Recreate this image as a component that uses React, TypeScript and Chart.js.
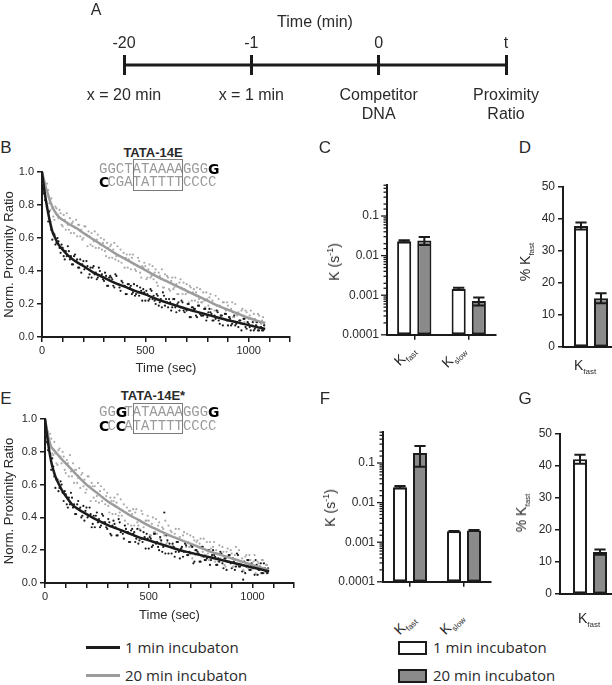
import React, { useEffect, useRef } from 'react';
import { Chart, registerables } from 'chart.js';

Chart.register(...registerables);

const SANS = '"Liberation Sans", Arial, Helvetica, sans-serif';
const LEGEND_FONT = '"Open Sans", "Liberation Sans", sans-serif';
const MONO = '"Liberation Mono", "DejaVu Sans Mono", monospace';
const BOLD_FONT = '"DejaVu Sans", "Liberation Sans", sans-serif';
const INK = '#1b1b1b';
const TEXT = '#2a2a2a';
const GRAY_FILL = '#8a8a8a';
const GRAY_LINE = '#9c9c9c';
const GRAY_DOT = '#ababab';
const SEQ_GRAY = '#9a9a9a';

Chart.defaults.font.family = SANS;
Chart.defaults.color = TEXT;

// ---------- Panel A (timeline) ----------
const TIME_LABELS = ['-20', '-1', '0', 't'];
const EVENT_LABELS = [['x = 20 min'], ['x = 1 min'], ['Competitor', 'DNA'], ['Proximity', 'Ratio']];
const TIMELINE_Y = [0, 0, 0, 0];

// ---------- Panels B / E (decay curves) ----------
const DOT_T = [5, 15, 25, 35, 45, 55, 65, 75, 85, 95, 105, 115, 125, 135, 145, 155, 165, 175, 185, 195, 205, 215, 225, 235, 245, 255, 265, 275, 285, 295, 305, 315, 325, 335, 345, 355, 365, 375, 385, 395, 405, 415, 425, 435, 445, 455, 465, 475, 485, 495, 505, 515, 525, 535, 545, 555, 565, 575, 585, 595, 605, 615, 625, 635, 645, 655, 665, 675, 685, 695, 705, 715, 725, 735, 745, 755, 765, 775, 785, 795, 805, 815, 825, 835, 845, 855, 865, 875, 885, 895, 905, 915, 925, 935, 945, 955, 965, 975, 985, 995, 1005, 1015, 1025, 1035, 1045, 1055, 1065, 1075];
const DOT_T2 = [0, 10, 20, 30, 40, 50, 60, 70, 80, 90, 100, 110, 120, 130, 140, 150, 160, 170, 180, 190, 200, 210, 220, 230, 240, 250, 260, 270, 280, 290, 300, 310, 320, 330, 340, 350, 360, 370, 380, 390, 400, 410, 420, 430, 440, 450, 460, 470, 480, 490, 500, 510, 520, 530, 540, 550, 560, 570, 580, 590, 600, 610, 620, 630, 640, 650, 660, 670, 680, 690, 700, 710, 720, 730, 740, 750, 760, 770, 780, 790, 800, 810, 820, 830, 840, 850, 860, 870, 880, 890, 900, 910, 920, 930, 940, 950, 960, 970, 980, 990, 1000, 1010, 1020, 1030, 1040, 1050, 1060, 1070];

const B_DOTS_1MIN = [
  0.97, 0.83, 0.79, 0.76, 0.65, 0.63, 0.56, 0.60, 0.54, 0.56,
  0.49, 0.52, 0.55, 0.47, 0.44, 0.49, 0.46, 0.42, 0.47, 0.44,
  0.41, 0.46, 0.36, 0.42, 0.42, 0.38, 0.35, 0.42, 0.37, 0.35,
  0.39, 0.31, 0.36, 0.36, 0.31, 0.38, 0.32, 0.30, 0.34, 0.31,
  0.26, 0.32, 0.30, 0.26, 0.32, 0.26, 0.27, 0.30, 0.22, 0.27,
  0.28, 0.22, 0.29, 0.23, 0.22, 0.26, 0.19, 0.23, 0.27, 0.19,
  0.21, 0.23, 0.16, 0.23, 0.18, 0.20, 0.16, 0.22, 0.16, 0.17,
  0.20, 0.12, 0.18, 0.17, 0.13, 0.19, 0.14, 0.13, 0.17, 0.10,
  0.15, 0.15, 0.10, 0.13, 0.16, 0.10, 0.13, 0.07, 0.14, 0.10,
  0.12, 0.07, 0.15, 0.07, 0.09, 0.10, 0.04, 0.11, 0.06, 0.09,
  0.06, 0.11, 0.04, 0.07, 0.04, 0.09, 0.04, 0.07,
];
const B_DOTS_1MIN_REP2 = [
  0.92, 0.87, 0.82, 0.70, 0.70, 0.59, 0.62, 0.57, 0.58, 0.51,
  0.54, 0.47, 0.49, 0.52, 0.49, 0.44, 0.50, 0.47, 0.42, 0.39,
  0.46, 0.42, 0.43, 0.38, 0.36, 0.43, 0.39, 0.36, 0.40, 0.38,
  0.34, 0.37, 0.31, 0.37, 0.35, 0.30, 0.37, 0.32, 0.28, 0.33,
  0.31, 0.26, 0.32, 0.31, 0.27, 0.25, 0.31, 0.25, 0.28, 0.29,
  0.22, 0.26, 0.23, 0.28, 0.25, 0.20, 0.25, 0.21, 0.18, 0.25,
  0.23, 0.18, 0.21, 0.18, 0.23, 0.15, 0.21, 0.18, 0.21, 0.15,
  0.16, 0.20, 0.12, 0.18, 0.17, 0.12, 0.19, 0.13, 0.13, 0.17,
  0.12, 0.17, 0.14, 0.10, 0.11, 0.15, 0.08, 0.13, 0.11, 0.14,
  0.07, 0.11, 0.08, 0.13, 0.08, 0.06, 0.10, 0.08, 0.11, 0.05,
  0.08, 0.04, 0.09, 0.05, 0.09, 0.04, 0.06, 0.04,
];
const B_DOTS_20MIN = [
  0.93, 0.93, 0.93, 0.81, 0.84, 0.73, 0.79, 0.74, 0.77, 0.68,
  0.74, 0.65, 0.68, 0.72, 0.69, 0.63, 0.71, 0.68, 0.61, 0.59,
  0.67, 0.62, 0.64, 0.56, 0.55, 0.64, 0.59, 0.54, 0.60, 0.57,
  0.52, 0.57, 0.48, 0.56, 0.53, 0.47, 0.55, 0.49, 0.45, 0.51,
  0.48, 0.42, 0.50, 0.48, 0.44, 0.40, 0.48, 0.39, 0.43, 0.45,
  0.35, 0.41, 0.36, 0.43, 0.39, 0.33, 0.39, 0.35, 0.30, 0.38,
  0.37, 0.29, 0.34, 0.29, 0.36, 0.26, 0.33, 0.30, 0.33, 0.26,
  0.27, 0.31, 0.22, 0.29, 0.27, 0.21, 0.29, 0.21, 0.22, 0.27,
  0.19, 0.26, 0.22, 0.16, 0.19, 0.23, 0.13, 0.21, 0.17, 0.21,
  0.12, 0.17, 0.12, 0.20, 0.13, 0.10, 0.16, 0.13, 0.16, 0.09,
  0.13, 0.07, 0.14, 0.09, 0.14, 0.06, 0.10, 0.08,
];
const B_DOTS_20MIN_REP2 = [
  1.00, 0.88, 0.89, 0.89, 0.77, 0.78, 0.71, 0.78, 0.72, 0.75,
  0.67, 0.71, 0.75, 0.65, 0.63, 0.70, 0.66, 0.61, 0.68, 0.65,
  0.60, 0.67, 0.55, 0.61, 0.63, 0.58, 0.54, 0.62, 0.56, 0.53,
  0.59, 0.49, 0.54, 0.55, 0.48, 0.57, 0.49, 0.46, 0.53, 0.48,
  0.42, 0.50, 0.47, 0.41, 0.50, 0.41, 0.43, 0.46, 0.36, 0.42,
  0.43, 0.36, 0.44, 0.37, 0.35, 0.41, 0.31, 0.37, 0.41, 0.30,
  0.34, 0.36, 0.28, 0.36, 0.30, 0.32, 0.26, 0.35, 0.26, 0.29,
  0.32, 0.21, 0.30, 0.27, 0.22, 0.30, 0.23, 0.21, 0.27, 0.18,
  0.23, 0.24, 0.17, 0.20, 0.25, 0.16, 0.19, 0.13, 0.21, 0.16,
  0.19, 0.12, 0.21, 0.12, 0.14, 0.15, 0.08, 0.17, 0.09, 0.15,
  0.11, 0.16, 0.07, 0.11, 0.07, 0.13, 0.08, 0.12,
];
const E_DOTS_1MIN = [
  0.97, 0.81, 0.78, 0.76, 0.65, 0.63, 0.56, 0.62, 0.55, 0.56,
  0.48, 0.52, 0.55, 0.46, 0.42, 0.48, 0.45, 0.40, 0.47, 0.44,
  0.40, 0.46, 0.34, 0.41, 0.41, 0.37, 0.34, 0.42, 0.37, 0.34,
  0.39, 0.30, 0.35, 0.36, 0.29, 0.39, 0.31, 0.30, 0.35, 0.31,
  0.25, 0.32, 0.30, 0.25, 0.33, 0.26, 0.27, 0.31, 0.21, 0.27,
  0.28, 0.22, 0.30, 0.24, 0.22, 0.28, 0.19, 0.43, 0.29, 0.18,
  0.22, 0.24, 0.16, 0.25, 0.19, 0.21, 0.16, 0.24, 0.17, 0.19,
  0.23, 0.12, 0.20, 0.19, 0.13, 0.22, 0.16, 0.14, 0.20, 0.11,
  0.17, 0.17, 0.11, 0.15, 0.19, 0.12, 0.15, 0.08, 0.17, 0.12,
  0.15, 0.08, 0.18, 0.10, 0.11, 0.02, 0.06, 0.14, 0.08, 0.12,
  0.09, 0.14, 0.05, 0.10, 0.06, 0.12, 0.07, 0.09,
];
const E_DOTS_1MIN_REP2 = [
  0.91, 0.86, 0.82, 0.69, 0.71, 0.58, 0.63, 0.58, 0.60, 0.50,
  0.54, 0.46, 0.48, 0.52, 0.48, 0.42, 0.50, 0.46, 0.41, 0.38,
  0.46, 0.41, 0.42, 0.36, 0.34, 0.43, 0.39, 0.35, 0.41, 0.37,
  0.33, 0.37, 0.29, 0.38, 0.34, 0.29, 0.37, 0.32, 0.27, 0.33,
  0.31, 0.25, 0.33, 0.31, 0.27, 0.24, 0.32, 0.25, 0.28, 0.30,
  0.21, 0.27, 0.23, 0.30, 0.25, 0.20, 0.26, 0.22, 0.18, 0.26,
  0.24, 0.18, 0.22, 0.19, 0.25, 0.15, 0.22, 0.19, 0.23, 0.17,
  0.18, 0.22, 0.13, 0.20, 0.18, 0.13, 0.22, 0.14, 0.15, 0.20,
  0.14, 0.20, 0.16, 0.11, 0.13, 0.18, 0.09, 0.15, 0.13, 0.17,
  0.09, 0.13, 0.10, 0.17, 0.10, 0.07, 0.13, 0.10, 0.14, 0.08,
  0.11, 0.05, 0.11, 0.08, 0.12, 0.06, 0.09, 0.06,
];
const E_DOTS_20MIN = [
  0.91, 0.92, 0.91, 0.79, 0.86, 0.73, 0.81, 0.77, 0.80, 0.69,
  0.75, 0.65, 0.68, 0.73, 0.69, 0.61, 0.70, 0.66, 0.59, 0.55,
  0.65, 0.59, 0.61, 0.52, 0.50, 0.61, 0.56, 0.50, 0.57, 0.53,
  0.47, 0.52, 0.42, 0.52, 0.49, 0.41, 0.51, 0.44, 0.38, 0.46,
  0.44, 0.35, 0.45, 0.43, 0.37, 0.33, 0.44, 0.34, 0.38, 0.41,
  0.29, 0.36, 0.31, 0.39, 0.35, 0.27, 0.34, 0.29, 0.24, 0.35,
  0.32, 0.23, 0.30, 0.25, 0.33, 0.20, 0.29, 0.25, 0.30, 0.22,
  0.22, 0.28, 0.17, 0.26, 0.24, 0.16, 0.27, 0.17, 0.18, 0.25,
  0.16, 0.25, 0.20, 0.13, 0.15, 0.22, 0.11, 0.19, 0.16, 0.20,
  0.10, 0.17, 0.11, 0.20, 0.11, 0.08, 0.16, 0.12, 0.17, 0.08,
  0.13, 0.06, 0.13, 0.08, 0.14, 0.06, 0.11, 0.06,
];
const E_DOTS_20MIN_REP2 = [
  0.99, 0.85, 0.87, 0.88, 0.78, 0.79, 0.72, 0.82, 0.73, 0.77,
  0.67, 0.73, 0.78, 0.65, 0.61, 0.69, 0.64, 0.58, 0.67, 0.63,
  0.57, 0.65, 0.50, 0.59, 0.59, 0.53, 0.49, 0.59, 0.52, 0.48,
  0.55, 0.43, 0.50, 0.50, 0.42, 0.54, 0.43, 0.41, 0.48, 0.43,
  0.36, 0.44, 0.42, 0.35, 0.45, 0.35, 0.38, 0.42, 0.28, 0.38,
  0.38, 0.29, 0.40, 0.31, 0.30, 0.37, 0.25, 0.33, 0.38, 0.25,
  0.29, 0.31, 0.22, 0.33, 0.25, 0.28, 0.21, 0.31, 0.22, 0.25,
  0.29, 0.15, 0.26, 0.25, 0.17, 0.27, 0.19, 0.17, 0.25, 0.14,
  0.21, 0.22, 0.13, 0.18, 0.23, 0.14, 0.19, 0.10, 0.21, 0.13,
  0.18, 0.10, 0.22, 0.11, 0.13, 0.15, 0.07, 0.17, 0.09, 0.14,
  0.09, 0.17, 0.05, 0.12, 0.06, 0.14, 0.07, 0.11,
];

const FIT_T = [0, 10, 20, 30, 40, 50, 60, 80, 100, 130, 160, 200, 250, 300, 350, 400, 450, 500, 550, 600, 650, 700, 750, 800, 850, 900, 950, 1000, 1050, 1080];
const B_FIT_1MIN = [1.0, 0.9, 0.82, 0.75, 0.69, 0.64, 0.61, 0.56, 0.53, 0.49, 0.46, 0.43, 0.39, 0.36, 0.33, 0.305, 0.28, 0.258, 0.232, 0.21, 0.19, 0.17, 0.152, 0.135, 0.118, 0.102, 0.087, 0.072, 0.057, 0.048];
const B_FIT_20MIN = [1.0, 0.95, 0.9, 0.86, 0.82, 0.79, 0.765, 0.73, 0.71, 0.685, 0.665, 0.63, 0.59, 0.55, 0.51, 0.475, 0.44, 0.405, 0.37, 0.34, 0.31, 0.28, 0.25, 0.22, 0.19, 0.165, 0.14, 0.115, 0.095, 0.085];
const E_FIT_1MIN = [1.0, 0.9, 0.81, 0.74, 0.69, 0.65, 0.62, 0.57, 0.53, 0.48, 0.45, 0.42, 0.385, 0.355, 0.33, 0.305, 0.28, 0.26, 0.24, 0.22, 0.2, 0.185, 0.17, 0.155, 0.14, 0.125, 0.11, 0.095, 0.08, 0.07];
const E_FIT_20MIN = [1.0, 0.93, 0.87, 0.83, 0.815, 0.8, 0.785, 0.755, 0.73, 0.69, 0.65, 0.6, 0.55, 0.5, 0.46, 0.42, 0.385, 0.35, 0.32, 0.29, 0.265, 0.24, 0.215, 0.19, 0.17, 0.15, 0.13, 0.11, 0.09, 0.08];

// ---------- Panels C / F (rate constants, log) ----------
const K_CATS = ['Kfast', 'Kslow'];
const K_SUBS = ['fast', 'slow'];
const LOG_MIN = 0.0001;
const LOG_MAX = 0.6;
const LOG_TICKS = [0.0001, 0.001, 0.01, 0.1];
const LOG_TICK_LABELS = ['0.0001', '0.001', '0.01', '0.1'];

const C_1MIN = [0.023, 0.00145];
const C_1MIN_LO = [0.0215, 0.00136];
const C_1MIN_HI = [0.0245, 0.00155];
const C_20MIN = [0.024, 0.00071];
const C_20MIN_LO = [0.0185, 0.00055];
const C_20MIN_HI = [0.0295, 0.00087];

const F_1MIN = [0.0245, 0.00188];
const F_1MIN_LO = [0.0228, 0.00183];
const F_1MIN_HI = [0.0263, 0.00193];
const F_20MIN = [0.18, 0.00198];
const F_20MIN_LO = [0.08, 0.00194];
const F_20MIN_HI = [0.27, 0.00202];

// ---------- Panels D / G (% Kfast) ----------
const PCT_CATS = ['Kfast'];
const PCT_TICK_STEP = 10;
const D_1MIN = [37.8];
const D_1MIN_LO = [36.7];
const D_1MIN_HI = [38.9];
const D_20MIN = [15.2];
const D_20MIN_LO = [13.7];
const D_20MIN_HI = [16.8];
const G_1MIN = [42.1];
const G_1MIN_LO = [40.7];
const G_1MIN_HI = [43.5];
const G_20MIN = [13.1];
const G_20MIN_LO = [12.3];
const G_20MIN_HI = [13.9];

// ---------- Sequences ----------
const SEQ_B_TOP = 'GGCTATAAAAGGGG';
const SEQ_B_BOT = 'CCGATATTTTCCCC';
const SEQ_E_TOP = 'GGGTATAAAAGGGG';
const SEQ_E_BOT = 'CCCATATTTTCCCC';
const BOLD_B_TOP = [13];
const BOLD_B_BOT = [0];
const BOLD_E_TOP = [2, 13];
const BOLD_E_BOT = [0, 2];

const LEGEND_TEXT = ['1 min incubaton', '20 min incubaton'];

// ---------- plugins ----------
const errorBarPlugin = {
  id: 'errorBars',
  afterDatasetsDraw(chart: any) {
    const ctx = chart.ctx;
    const ys = chart.scales.y;
    chart.data.datasets.forEach((ds: any, di: number) => {
      const meta = chart.getDatasetMeta(di);
      meta.data.forEach((bar: any, i: number) => {
        const yLo = ys.getPixelForValue(ds.errLo[i]);
        const yHi = ys.getPixelForValue(ds.errHi[i]);
        const half = bar.width * 0.4;
        ctx.save();
        ctx.strokeStyle = INK;
        ctx.lineWidth = 2;
        ctx.beginPath();
        ctx.moveTo(bar.x, yLo);
        ctx.lineTo(bar.x, yHi);
        ctx.moveTo(bar.x - half, yLo);
        ctx.lineTo(bar.x + half, yLo);
        ctx.moveTo(bar.x - half, yHi);
        ctx.lineTo(bar.x + half, yHi);
        ctx.stroke();
        ctx.restore();
      });
    });
  },
};

const isPow10 = (v: number) => {
  const e = Math.log10(v);
  return Math.abs(e - Math.round(e)) < 1e-6;
};

const logTickPlugin = {
  id: 'logTicks',
  afterDraw(chart: any) {
    const s = chart.scales.y;
    const ctx = chart.ctx;
    ctx.save();
    ctx.strokeStyle = INK;
    ctx.lineWidth = 1.3;
    s.ticks.forEach((t: any) => {
      const y = s.getPixelForValue(t.value);
      const len = isPow10(t.value) ? 6 : 3.5;
      ctx.beginPath();
      ctx.moveTo(s.right - len, y);
      ctx.lineTo(s.right, y);
      ctx.stroke();
    });
    ctx.restore();
  },
};

const baseOptions = (padding: any) => ({
  responsive: false,
  animation: false,
  events: [],
  devicePixelRatio: 1,
  layout: { padding },
  plugins: { legend: { display: false }, tooltip: { enabled: false } },
});

// ---------- configs ----------
const timelineConfig = () => ({
  type: 'line',
  data: {
    labels: TIME_LABELS,
    datasets: [{ data: TIMELINE_Y, borderColor: INK, borderWidth: 3, pointRadius: 0, xAxisID: 'x', yAxisID: 'y' }],
  },
  options: {
    ...baseOptions({ left: 124, right: 106, top: 0, bottom: 0 }),
    scales: {
      x: {
        type: 'category',
        position: 'top',
        offset: false,
        afterFit: (s: any) => { s.height = 55; },
        grid: { offset: false, drawTicks: false, color: INK, lineWidth: 3 },
        border: { display: false },
        ticks: { font: { size: 16 }, color: TEXT, padding: 2, maxRotation: 0, autoSkip: false },
        title: { display: true, text: 'Time (min)', font: { size: 16 }, color: TEXT, padding: { top: 13, bottom: 0 } },
      },
      x2: {
        type: 'category',
        position: 'bottom',
        labels: EVENT_LABELS,
        offset: false,
        afterFit: (s: any) => { s.height = 50; },
        grid: { display: false },
        border: { display: false },
        ticks: { font: { size: 16 }, color: TEXT, padding: 3, maxRotation: 0, autoSkip: false },
      },
      y: { display: false, min: -1, max: 1 },
    },
  },
});

const dotSet = (times: number[], vals: number[], color: string, order: number) => ({
  data: times.map((t, i) => ({ x: t, y: vals[i] })),
  pointRadius: 1.1,
  backgroundColor: color,
  borderWidth: 0,
  order,
});

const decayConfig = (dots1: number[], dots1b: number[], dots20: number[], dots20b: number[], fit1: number[], fit20: number[], yW: number, xH: number, padding: any, titlePad: number) => () => ({
  type: 'scatter',
  data: {
    datasets: [
      { data: FIT_T.map((t, i) => ({ x: t, y: fit1[i] })), showLine: true, borderColor: INK, borderWidth: 2.5, pointRadius: 0, cubicInterpolationMode: 'monotone', order: 0 },
      { data: FIT_T.map((t, i) => ({ x: t, y: fit20[i] })), showLine: true, borderColor: GRAY_LINE, borderWidth: 2.5, pointRadius: 0, cubicInterpolationMode: 'monotone', order: 1 },
      dotSet(DOT_T, dots1, INK, 2),
      dotSet(DOT_T2, dots1b, INK, 3),
      dotSet(DOT_T, dots20, GRAY_DOT, 4),
      dotSet(DOT_T2, dots20b, GRAY_DOT, 5),
    ],
  },
  options: {
    ...baseOptions(padding),
    scales: {
      x: {
        type: 'linear', min: 0, max: 1200,
        afterFit: (s: any) => { s.height = xH; },
        ticks: { stepSize: 100, autoSkip: false, maxRotation: 0, callback: (v: any) => (Number(v) % 500 === 0 ? String(v) : ''), font: { size: 11 }, color: TEXT, padding: 2 },
        grid: { drawOnChartArea: false, drawTicks: true, tickLength: 5, color: INK, lineWidth: 1.5 },
        border: { color: INK, width: 2 },
        title: { display: true, text: 'Time (sec)', font: { size: 13 }, color: TEXT, padding: { top: 0, bottom: titlePad } },
      },
      y: {
        type: 'linear', min: 0, max: 1,
        afterFit: (s: any) => { s.width = yW; },
        ticks: { stepSize: 0.2, callback: (v: any) => Number(v).toFixed(1), font: { size: 11 }, color: TEXT, padding: 3 },
        grid: { drawOnChartArea: false, drawTicks: true, tickLength: 5, color: INK, lineWidth: 1.5 },
        border: { color: INK, width: 2 },
        title: { display: true, text: 'Norm. Proximity Ratio', font: { size: 13 }, color: TEXT, padding: { top: 2, bottom: 0 } },
      },
    },
  },
});

const logBarConfig = (v1: number[], lo1: number[], hi1: number[], v20: number[], lo20: number[], hi20: number[], yW: number, xH: number, padding: any) => () => ({
  type: 'bar',
  data: {
    labels: K_CATS,
    datasets: [
      { label: LEGEND_TEXT[0], data: v1, errLo: lo1, errHi: hi1, backgroundColor: '#ffffff', borderColor: INK, borderWidth: 2, borderSkipped: false, barPercentage: 0.7, categoryPercentage: 0.74, base: LOG_MIN },
      { label: LEGEND_TEXT[1], data: v20, errLo: lo20, errHi: hi20, backgroundColor: GRAY_FILL, borderColor: INK, borderWidth: 2, borderSkipped: false, barPercentage: 0.7, categoryPercentage: 0.74, base: LOG_MIN },
    ],
  },
  options: {
    ...baseOptions(padding),
    scales: {
      x: {
        type: 'category', offset: true,
        afterFit: (s: any) => { s.height = xH; },
        ticks: { display: false },
        grid: { offset: false, drawOnChartArea: false, drawTicks: true, tickLength: 5, color: INK, lineWidth: 1.5 },
        border: { color: INK, width: 2 },
      },
      y: {
        type: 'logarithmic', min: LOG_MIN, max: LOG_MAX,
        afterFit: (s: any) => { s.width = yW; },
        ticks: {
          autoSkip: false,
          callback: (v: any) => {
            const n = Number(v);
            if (!isPow10(n)) return '';
            const idx = LOG_TICKS.findIndex((t) => Math.abs(Math.log10(t) - Math.log10(n)) < 1e-6);
            return idx >= 0 ? LOG_TICK_LABELS[idx] : '';
          },
          font: { size: 12 }, color: TEXT, padding: 8,
        },
        grid: { drawOnChartArea: false, drawTicks: false },
        border: { color: INK, width: 2 },
      },
    },
  },
  plugins: [errorBarPlugin, logTickPlugin],
});

const pctBarConfig = (v1: number[], lo1: number[], hi1: number[], v20: number[], lo20: number[], hi20: number[], cp: number, yW: number, xH: number, padding: any) => () => ({
  type: 'bar',
  data: {
    labels: PCT_CATS,
    datasets: [
      { label: LEGEND_TEXT[0], data: v1, errLo: lo1, errHi: hi1, backgroundColor: '#ffffff', borderColor: INK, borderWidth: 2, borderSkipped: false, barPercentage: 0.7, categoryPercentage: cp },
      { label: LEGEND_TEXT[1], data: v20, errLo: lo20, errHi: hi20, backgroundColor: GRAY_FILL, borderColor: INK, borderWidth: 2, borderSkipped: false, barPercentage: 0.7, categoryPercentage: cp },
    ],
  },
  options: {
    ...baseOptions(padding),
    scales: {
      x: {
        type: 'category', offset: true,
        afterFit: (s: any) => { s.height = xH; },
        ticks: { display: false },
        grid: { drawOnChartArea: false, drawTicks: false },
        border: { color: INK, width: 2 },
      },
      y: {
        type: 'linear', min: 0, max: 50,
        afterFit: (s: any) => { s.width = yW; },
        ticks: { stepSize: PCT_TICK_STEP, font: { size: 12 }, color: TEXT, padding: 3 },
        grid: { drawOnChartArea: false, drawTicks: true, tickLength: 5, color: INK, lineWidth: 1.5 },
        border: { color: INK, width: 2 },
      },
    },
  },
  plugins: [errorBarPlugin],
});

// ---------- components ----------
function ChartCanvas({ left, top, width, height, config }: { left: number; top: number; width: number; height: number; config: () => any }) {
  const ref = useRef<HTMLCanvasElement | null>(null);
  useEffect(() => {
    if (!ref.current) return;
    const chart = new Chart(ref.current, config());
    return () => chart.destroy();
  }, []);
  return <canvas ref={ref} width={width} height={height} style={{ position: 'absolute', left, top, width, height, display: 'block' }} />;
}

function Label({ x, y, size = 13, rotate = 0, weight = 400, font = SANS, color = TEXT, anchor = 'center', children }: any) {
  const tx = anchor === 'left' ? '0' : '-50%';
  return (
    <div style={{ position: 'absolute', left: x, top: y, transform: `translate(${tx}, -50%) rotate(${rotate}deg)`, fontSize: size, fontWeight: weight, fontFamily: font, color, whiteSpace: 'nowrap', lineHeight: 1 }}>
      {children}
    </div>
  );
}

function KLabel({ x, y, sub, rotate = 0 }: any) {
  return (
    <Label x={x} y={y} rotate={rotate} size={14}>
      K<span style={{ fontSize: 8, position: 'relative', top: 4 }}>{sub}</span>
    </Label>
  );
}

function RateTitle({ x, y }: any) {
  return (
    <Label x={x} y={y} rotate={-90} size={14}>
      K (s<span style={{ fontSize: 9, position: 'relative', top: -6 }}>-1</span>)
    </Label>
  );
}

function PctTitle({ x, y }: any) {
  return (
    <Label x={x} y={y} rotate={-90} size={14}>
      % K<span style={{ fontSize: 8, position: 'relative', top: 4 }}>fast</span>
    </Label>
  );
}

const CHAR_W = 8.4;
function Sequence({ x, y, seq, bold }: { x: number; y: number; seq: string; bold: number[] }) {
  return (
    <div style={{ position: 'absolute', left: x, top: y, transform: 'translateY(-50%)', display: 'flex', lineHeight: 1, whiteSpace: 'nowrap' }}>
      {seq.split('').map((ch, i) => {
        const b = bold.includes(i);
        return (
          <span key={i} style={{ flex: `0 0 ${CHAR_W}px`, width: CHAR_W, textAlign: 'center', display: 'inline-block', fontFamily: b ? BOLD_FONT : MONO, fontWeight: b ? 900 : 400, fontSize: 14, color: b ? '#000' : SEQ_GRAY }}>
            {ch}
          </span>
        );
      })}
    </div>
  );
}

function SeqBlock({ title, x, topSeq, botSeq, topBold, botBold, titleY, y1, y2, boxTop, boxH }: any) {
  return (
    <>
      <Label x={153} y={titleY} size={13} weight={700}>{title}</Label>
      <Sequence x={x} y={y1} seq={topSeq} bold={topBold} />
      <Sequence x={x} y={y2} seq={botSeq} bold={botBold} />
      <div style={{ position: 'absolute', left: x + 4 * CHAR_W, top: boxTop, width: 6 * CHAR_W - 2, height: boxH, border: '1px solid #7a7a7a' }} />
    </>
  );
}

export default function App() {
  return (
    <div style={{ position: 'absolute', left: 0, top: 0, width: 612, height: 685, overflow: 'hidden', background: '#ffffff', fontFamily: SANS, color: TEXT }}>
      {/* Panel A */}
      <ChartCanvas left={0} top={0} width={612} height={125} config={timelineConfig} />
      <Label x={96} y={10} size={16}>A</Label>

      {/* Panel B */}
      <ChartCanvas left={0} top={160} width={300} height={220} config={decayConfig(B_DOTS_1MIN, B_DOTS_1MIN_REP2, B_DOTS_20MIN, B_DOTS_20MIN_REP2, B_FIT_1MIN, B_FIT_20MIN, 42, 43, { top: 12, right: 10, left: 0, bottom: 0 }, 4)} />
      <Label x={6} y={147} size={17}>B</Label>
      <SeqBlock title="TATA-14E" x={99} topSeq={SEQ_B_TOP} botSeq={SEQ_B_BOT} topBold={BOLD_B_TOP} botBold={BOLD_B_BOT} titleY={152} y1={169} y2={182} boxTop={159} boxH={30} />

      {/* Panel C */}
      <ChartCanvas left={330} top={170} width={175} height={180} config={logBarConfig(C_1MIN, C_1MIN_LO, C_1MIN_HI, C_20MIN, C_20MIN_LO, C_20MIN_HI, 57, 13, { top: 9, right: 9, left: 0, bottom: 0 })} />
      <Label x={325} y={147} size={17}>C</Label>
      <RateTitle x={334} y={262} />
      <KLabel x={404} y={355} sub={K_SUBS[0]} rotate={-45} />
      <KLabel x={453} y={356} sub={K_SUBS[1]} rotate={-45} />

      {/* Panel D */}
      <ChartCanvas left={505} top={175} width={120} height={185} config={pctBarConfig(D_1MIN, D_1MIN_LO, D_1MIN_HI, D_20MIN, D_20MIN_LO, D_20MIN_HI, 0.714, 58, 13, { top: 12, right: 6, left: 0, bottom: 0 })} />
      <Label x={525} y={147} size={17}>D</Label>
      <PctTitle x={525} y={262} />
      <KLabel x={585} y={365} sub={K_SUBS[0]} />

      {/* Panel E */}
      <ChartCanvas left={0} top={408} width={304} height={220} config={decayConfig(E_DOTS_1MIN, E_DOTS_1MIN_REP2, E_DOTS_20MIN, E_DOTS_20MIN_REP2, E_FIT_1MIN, E_FIT_20MIN, 45, 45, { top: 11, right: 10, left: 0, bottom: 0 }, 5)} />
      <Label x={6} y={398} size={17}>E</Label>
      <SeqBlock title="TATA-14E*" x={99} topSeq={SEQ_E_TOP} botSeq={SEQ_E_BOT} topBold={BOLD_E_TOP} botBold={BOLD_E_BOT} titleY={395} y1={412} y2={426} boxTop={403} boxH={29} />

      {/* Panel F */}
      <ChartCanvas left={326} top={417} width={175} height={180} config={logBarConfig(F_1MIN, F_1MIN_LO, F_1MIN_HI, F_20MIN, F_20MIN_LO, F_20MIN_HI, 57, 14, { top: 9, right: 10, left: 0, bottom: 0 })} />
      <Label x={325} y={398} size={17}>F</Label>
      <RateTitle x={330} y={508} />
      <KLabel x={404} y={624} sub={K_SUBS[0]} rotate={-45} />
      <KLabel x={451} y={623} sub={K_SUBS[1]} rotate={-45} />

      {/* Panel G */}
      <ChartCanvas left={500} top={422} width={125} height={185} config={pctBarConfig(G_1MIN, G_1MIN_LO, G_1MIN_HI, G_20MIN, G_20MIN_LO, G_20MIN_HI, 0.667, 60, 13, { top: 12, right: 5, left: 0, bottom: 0 })} />
      <Label x={525} y={398} size={17}>G</Label>
      <PctTitle x={521} y={513} />
      <KLabel x={589} y={618} sub={K_SUBS[0]} />

      {/* Legends */}
      <div style={{ position: 'absolute', left: 86, top: 645.5, width: 34, height: 3, background: INK }} />
      <Label x={125} y={647} size={15} font={LEGEND_FONT} anchor="left">{LEGEND_TEXT[0]}</Label>
      <div style={{ position: 'absolute', left: 86, top: 673.5, width: 34, height: 3, background: GRAY_LINE }} />
      <Label x={125} y={675} size={15} font={LEGEND_FONT} anchor="left">{LEGEND_TEXT[1]}</Label>

      <div style={{ position: 'absolute', left: 398, top: 641, width: 25, height: 10, border: `2px solid ${INK}`, background: '#ffffff' }} />
      <Label x={433} y={647} size={15} font={LEGEND_FONT} anchor="left">{LEGEND_TEXT[0]}</Label>
      <div style={{ position: 'absolute', left: 398, top: 669, width: 25, height: 10, border: `2px solid ${INK}`, background: GRAY_FILL }} />
      <Label x={433} y={675} size={15} font={LEGEND_FONT} anchor="left">{LEGEND_TEXT[1]}</Label>
    </div>
  );
}
